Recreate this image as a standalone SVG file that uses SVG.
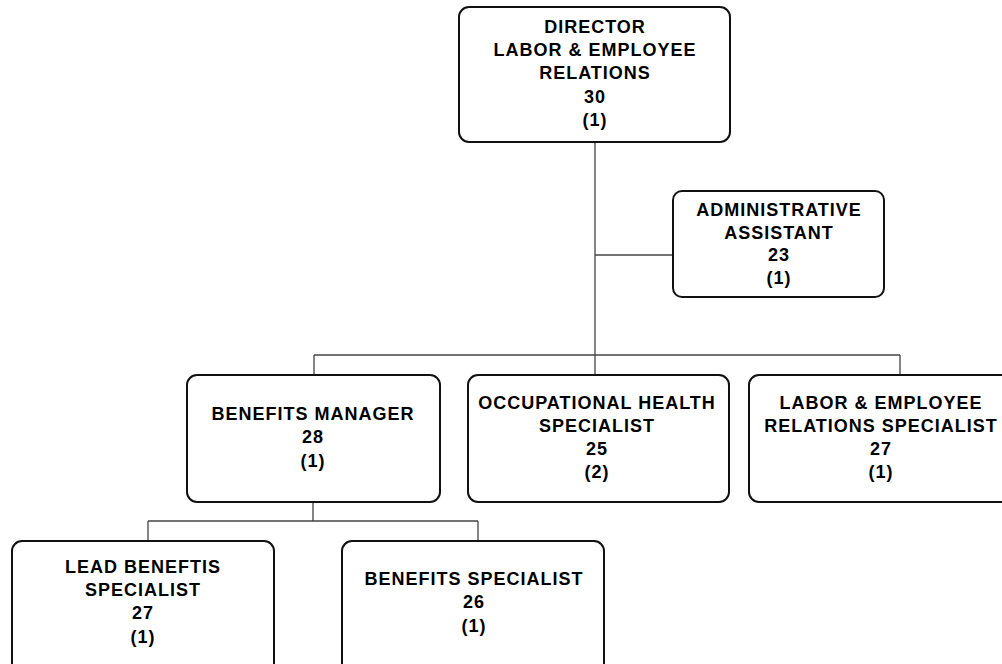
<svg xmlns="http://www.w3.org/2000/svg" width="1002" height="664" viewBox="0 0 1002 664">
<style>
.box{fill:#fff;stroke:#111;stroke-width:2}
.t{font-family:"Liberation Sans",Arial,sans-serif;font-weight:bold;font-size:18px;letter-spacing:1px;fill:#000;text-anchor:middle}
.c{fill:none;stroke:#444;stroke-width:1.3}
</style>
<rect width="1002" height="664" fill="#fff"/>
<g id="connectors">
<path class="c" d="M595 142V375M595 255H673M314 355H900M314 355V375M900 355V375M313 502V521M148 521H478M148 521V541M478 521V541"/>
</g>
<g id="director">
<rect class="box" x="459" y="7" width="271" height="135" rx="10"/>
<text class="t" x="595" y="33">DIRECTOR</text>
<text class="t" x="595" y="56">LABOR &amp; EMPLOYEE</text>
<text class="t" x="595" y="79">RELATIONS</text>
<text class="t" x="595" y="103">30</text>
<text class="t" x="595" y="126">(1)</text>
</g>
<g id="admin">
<rect class="box" x="673" y="191" width="211" height="106" rx="9"/>
<text class="t" x="779" y="216">ADMINISTRATIVE</text>
<text class="t" x="779" y="239">ASSISTANT</text>
<text class="t" x="779" y="261">23</text>
<text class="t" x="779" y="284">(1)</text>
</g>
<g id="benefits-manager">
<rect class="box" x="187" y="375" width="253" height="127" rx="10"/>
<text class="t" x="313" y="420">BENEFITS MANAGER</text>
<text class="t" x="313" y="443">28</text>
<text class="t" x="313" y="467">(1)</text>
</g>
<g id="occupational-health">
<rect class="box" x="468" y="375" width="261" height="127" rx="10"/>
<text class="t" x="597" y="409">OCCUPATIONAL HEALTH</text>
<text class="t" x="597" y="432">SPECIALIST</text>
<text class="t" x="597" y="455">25</text>
<text class="t" x="597" y="478">(2)</text>
</g>
<g id="labor-relations-specialist">
<rect class="box" x="749" y="375" width="265" height="127" rx="10"/>
<text class="t" x="881" y="409">LABOR &amp; EMPLOYEE</text>
<text class="t" x="881" y="432">RELATIONS SPECIALIST</text>
<text class="t" x="881" y="455">27</text>
<text class="t" x="881" y="478">(1)</text>
</g>
<g id="lead-benefits-specialist">
<rect class="box" x="12" y="541" width="262" height="135" rx="10"/>
<text class="t" x="143" y="573">LEAD BENEFTIS</text>
<text class="t" x="143" y="596">SPECIALIST</text>
<text class="t" x="143" y="619">27</text>
<text class="t" x="143" y="643">(1)</text>
</g>
<g id="benefits-specialist">
<rect class="box" x="342" y="541" width="262" height="135" rx="10"/>
<text class="t" x="474" y="585">BENEFITS SPECIALIST</text>
<text class="t" x="474" y="608">26</text>
<text class="t" x="474" y="632">(1)</text>
</g>
</svg>
